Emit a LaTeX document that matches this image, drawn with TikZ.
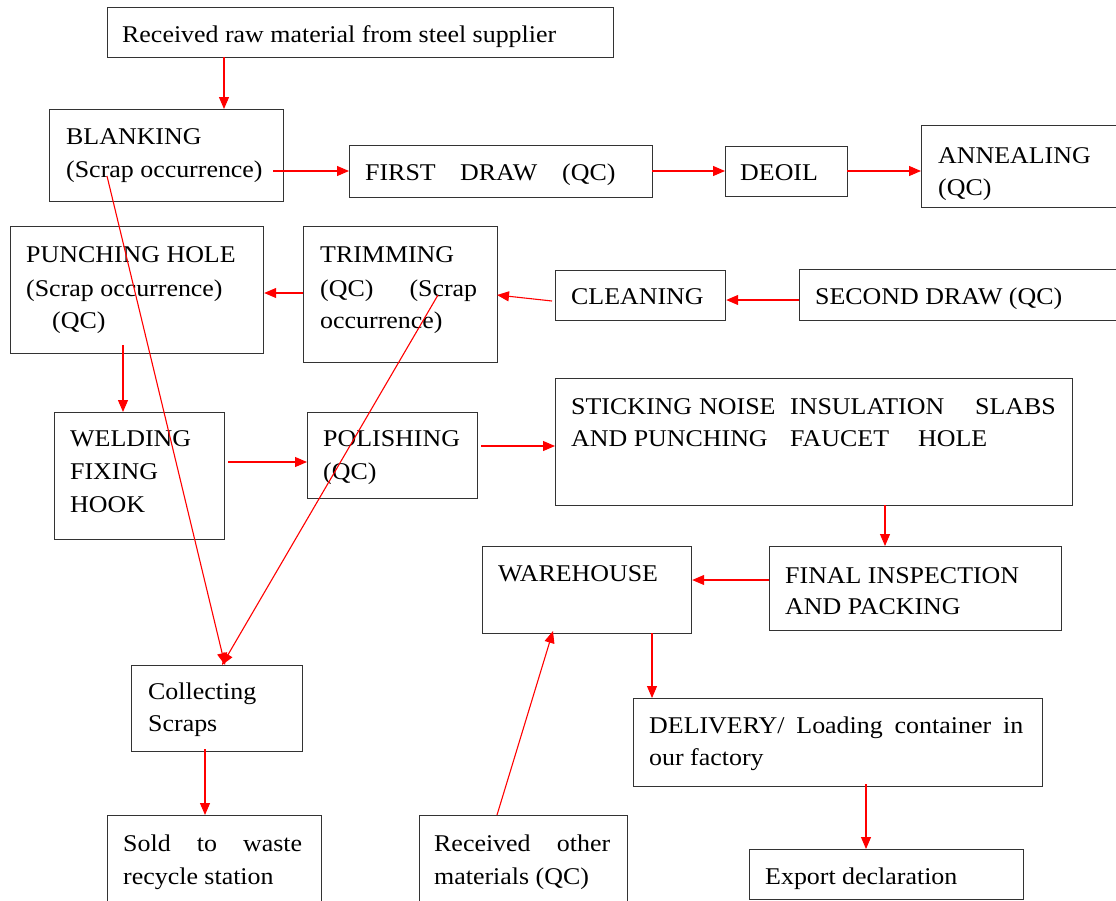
\documentclass[tikz,border=0pt]{standalone}
\usepackage{fontspec}
\setmainfont[FakeStretch=1.08]{Liberation Serif}
\usetikzlibrary{arrows.meta,calc}
\newcommand\bx[5]{\node[fbox,minimum width=#4pt,minimum height=#5pt] (#1) at (#2,#3) {};}
\begin{document}
\begin{tikzpicture}[x=1pt,y=-1pt,
  fbox/.style={draw=black!80,line width=1.2pt,rectangle,anchor=north west,inner sep=0pt},
  tx/.style={anchor=base west,inner sep=0pt,font=\fontsize{24}{24}\selectfont},
  arr/.style={draw=red,line width=1.1pt,-{Triangle[length=12pt,width=10pt]}}]
\useasboundingbox (0,0) rectangle (1116,900);
\clip (0,0) rectangle (1116,900);
\fill[white] (0,0) rectangle (1116,900);
% boxes
\bx{raw}{107}{7}{506}{50}
\bx{blank}{49}{109}{234}{92}
\bx{first}{349}{145}{303}{52}
\bx{deoil}{725}{146}{122}{50}
\bx{anneal}{921}{125}{220}{82}
\bx{punch}{10}{226}{253}{127}
\bx{trim}{303}{226}{194}{136}
\bx{clean}{555}{270}{170}{50}
\bx{second}{799}{269}{340}{51}
\bx{weld}{54}{412}{170}{127}
\bx{polish}{307}{412}{170}{86}
\bx{stick}{555}{378}{517}{127}
\bx{ware}{482}{546}{209}{87}
\bx{final}{769}{546}{292}{84}
\bx{collect}{131}{665}{171}{86}
\bx{deliv}{633}{698}{409}{88}
\bx{sold}{107}{815}{214}{110}
\bx{other}{419}{815}{208}{110}
\bx{export}{749}{849}{274}{50}
% texts
\node[tx] (t1) at (122,42) {Received raw material from steel supplier};
\node[tx] (t2) at (66,144) {BLANKING};
\node[tx] (t3) at (66,177) {(Scrap occurrence)};
\node[tx] (t4a) at (365,180) {FIRST};
\node[tx] (t4b) at (460,180) {DRAW};
\node[tx] (t4c) at (562,180) {(QC)};
\node[tx] (t5) at (740,180) {DEOIL};
\node[tx] (t6) at (938,163) {ANNEALING};
\node[tx] (t7) at (938,195) {(QC)};
\node[tx] (t8) at (26,262) {PUNCHING HOLE};
\node[tx] (t9) at (26,296) {(Scrap occurrence)};
\node[tx] (t10) at (52,328) {(QC)};
\node[tx] (t11) at (320,262) {TRIMMING};
\node[tx] (t12) at (320,296) {\makebox[157pt][s]{(QC) (Scrap}};
\node[tx] (t13) at (320,328) {occurrence)};
\node[tx] (t14) at (571,304) {CLEANING};
\node[tx] (t15) at (815,304) {SECOND DRAW (QC)};
\node[tx] (t16) at (70,446) {WELDING};
\node[tx] (t17) at (70,479) {FIXING};
\node[tx] (t18) at (70,512) {HOOK};
\node[tx] (t19) at (323,446) {POLISHING};
\node[tx] (t20) at (323,479) {(QC)};
\node[tx] (t21a) at (571,414) {STICKING};
\node[tx] (t21b) at (699,414) {NOISE};
\node[tx] (t21c) at (790,414) {INSULATION};
\node[tx] (t21d) at (975,414) {SLABS};
\node[tx] (t22a) at (571,446) {AND PUNCHING};
\node[tx] (t22b) at (790,446) {FAUCET};
\node[tx] (t22c) at (918,446) {HOLE};
\node[tx] (t23) at (498,581) {WAREHOUSE};
\node[tx] (t24) at (785,583) {FINAL INSPECTION};
\node[tx] (t25) at (785,614) {AND PACKING};
\node[tx] (t26) at (148,699) {Collecting};
\node[tx] (t27) at (148,731) {Scraps};
\node[tx] (t28) at (649,733) {\makebox[374pt][s]{DELIVERY/ Loading container in}};
\node[tx] (t29) at (649,765) {our factory};
\node[tx] (t30) at (123,851) {\makebox[179pt][s]{Sold to waste}};
\node[tx] (t31) at (123,884) {recycle station};
\node[tx] (t32) at (434,851) {\makebox[176pt][s]{Received other}};
\node[tx] (t33) at (434,884) {materials (QC)};
\node[tx] (t34) at (765,884) {Export declaration};
% connectors
\coordinate (s1) at (224,57);
\draw[arr] (s1) -- (s1 |- blank.north);
\coordinate (s2) at (273,171);
\draw[arr] (s2) -- (s2 -| first.west);
\coordinate (s3) at (652,171);
\draw[arr] (s3) -- (s3 -| deoil.west);
\coordinate (s4) at (847,171);
\draw[arr] (s4) -- (s4 -| anneal.west);
\coordinate (s5) at (799,300);
\draw[arr] (s5) -- (s5 -| clean.east);
\coordinate (s6) at (552,301);
\coordinate (e6) at (497,295);
\draw[arr] (s6) -- (e6);
\coordinate (s7) at (303,293);
\draw[arr] (s7) -- (s7 -| punch.east);
\coordinate (s8) at (123,345);
\draw[arr] (s8) -- (s8 |- weld.north);
\coordinate (s9) at (228,462);
\draw[arr] (s9) -- (s9 -| polish.west);
\coordinate (s10) at (481,446);
\draw[arr] (s10) -- (s10 -| stick.west);
\coordinate (s11) at (885,505);
\draw[arr] (s11) -- (s11 |- final.north);
\coordinate (s12) at (769,580);
\draw[arr] (s12) -- (s12 -| ware.east);
\coordinate (s13) at (652,633);
\draw[arr] (s13) -- (s13 |- deliv.north);
\coordinate (s14) at (866,784);
\draw[arr] (s14) -- (s14 |- export.north);
\coordinate (s15) at (205,749);
\draw[arr] (s15) -- (s15 |- sold.north);
\coordinate (s16) at (497,815);
\coordinate (e16) at (553,631);
\draw[arr] (s16) -- (e16);
\coordinate (s17) at (107,176);
\coordinate (e17) at (225,665);
\draw[arr] (s17) -- (e17);
\coordinate (s18) at (438,295);
\coordinate (e18) at (222,665);
\draw[arr] (s18) -- (e18);
\end{tikzpicture}
\end{document}
